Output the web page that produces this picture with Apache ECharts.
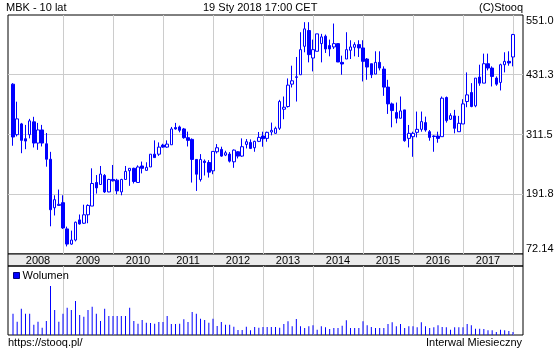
<!DOCTYPE html>
<html><head><meta charset="utf-8">
<script src="https://cdn.jsdelivr.net/npm/echarts@6/dist/echarts.min.js"></script>
<style>html,body{margin:0;padding:0;background:#fff}#c{width:560px;height:350px}</style>
</head><body><div id="c"></div>
<script>
// ---- data (monthly, Jan 2008 .. Jan 2018) ----
const years = ['2008','2009','2010','2011','2012','2013','2014','2015','2016','2017'];
const open = [412.4,311.2,332.8,303.1,311.2,336.9,294.4,320.7,293.0,262.0,164.8,169.5,
175.0,122.4,92.0,100.1,140.5,133.8,150.7,168.2,215.4,211.4,229.6,196.5,
221.5,220.1,196.5,221.5,239.0,243.8,215.4,248.5,239.7,246.5,272.1,272.1,
290.3,286.3,291.0,325.4,326.7,322.7,305.2,301.8,261.6,221.3,258.2,255.5,
238.8,277.0,281.7,270.3,272.3,256.9,277.0,268.3,291.7,295.7,285.0,297.8,
308.5,303.8,316.6,313.9,324.0,362.2,367.6,412.5,425.9,431.3,488.3,519.9,
464.8,478.3,493.7,508.5,489.7,487.0,493.7,456.1,462.8,480.3,486.3,491.7,
485.0,462.8,453.4,432.6,456.1,442.7,406.5,372.9,355.5,344.1,360.9,303.8,
307.2,315.9,321.9,335.4,317.2,308.5,308.5,307.2,385.7,342.1,348.8,317.2,
332.7,377.6,395.7,368.9,426.6,414.5,453.4,444.7,424.6,415.9,451.4,458.1,
466.9];
const close = [306.5,342.9,299.8,298.4,338.9,294.4,320.7,294.4,262.0,160.8,181.0,171.6,
124.4,92.0,100.1,135.8,132.4,150.7,169.5,213.4,204.6,232.3,196.5,221.5,
218.8,198.6,221.5,237.7,243.8,217.4,246.5,243.8,245.8,272.1,265.3,286.3,
286.3,292.3,322.7,322.7,320.0,305.2,299.8,261.6,232.0,261.6,255.5,236.1,
277.7,285.0,268.3,275.0,258.2,280.3,268.3,287.1,297.1,283.7,297.8,305.8,
303.2,315.9,319.9,324.0,377.6,366.2,410.5,419.2,427.3,481.6,523.2,471.6,
481.6,513.2,507.1,483.0,483.0,493.7,456.8,452.8,481.6,487.0,491.7,485.0,
458.1,446.7,431.3,456.1,444.7,406.5,372.9,359.5,344.1,358.8,299.1,313.9,
313.9,321.9,337.4,320.6,305.8,307.6,303.8,384.3,339.4,349.5,324.0,334.0,
372.9,391.0,367.6,424.6,414.5,453.4,444.7,427.9,412.5,451.4,458.1,454.8,
511.8];
const low = [289.0,307.8,274.1,282.2,303.8,285.6,280.8,287.6,247.1,127.7,149.3,168.9,
122.4,87.3,90.6,97.4,131.1,132.4,133.8,168.2,193.2,211.4,194.5,195.9,
217.4,191.8,189.8,221.5,208.7,213.4,215.4,233.6,239.7,246.5,265.3,268.7,
285.0,285.0,291.0,321.3,315.9,303.1,287.6,215.3,198.5,217.3,229.4,225.3,
232.0,273.6,266.9,268.3,255.5,244.8,263.6,266.9,283.7,282.4,277.0,296.4,
287.1,297.1,309.9,313.2,320.6,342.1,365.5,405.8,377.6,431.3,476.3,456.1,
438.0,478.3,456.1,474.9,468.2,483.0,456.8,431.3,462.8,462.8,468.2,466.9,
417.9,421.2,424.6,432.6,440.0,389.0,352.8,326.0,334.0,344.1,297.1,285.7,
266.9,305.8,317.2,317.2,299.1,277.0,295.1,307.2,335.4,340.7,313.9,317.2,
332.7,366.2,366.2,366.2,409.2,414.5,440.0,407.8,409.2,399.8,436.0,449.4,
448.1];
const high = [414.4,377.3,334.8,330.8,342.9,347.0,334.8,330.8,314.6,276.8,189.8,201.3,
189.8,127.0,119.0,137.1,151.3,170.9,171.6,243.8,230.3,248.5,232.3,222.8,
250.5,222.8,222.8,248.5,243.8,245.1,249.8,257.3,255.9,272.1,299.8,295.7,
293.0,299.8,326.7,334.8,329.4,324.7,317.3,303.8,261.6,272.3,261.6,260.2,
277.7,292.4,287.1,279.0,276.3,281.7,278.3,303.8,302.5,301.8,299.1,316.6,
317.2,317.2,335.4,327.3,381.0,387.7,423.9,449.4,466.9,516.5,536.6,536.6,
501.7,513.2,513.2,511.8,501.7,533.9,493.7,469.5,516.5,500.4,496.4,500.4,
500.4,464.8,453.4,478.3,478.3,448.1,421.2,375.6,375.6,387.7,360.9,330.7,
317.2,357.5,357.5,347.4,320.6,309.9,317.2,387.7,387.7,354.1,360.9,348.8,
382.3,436.0,414.5,424.6,451.4,473.6,473.6,448.1,427.9,453.4,476.3,478.3,
513.2];
const volume = [64,40,79,64,64,31,40,22,42,147,75,40,
64,82,75,102,60,55,75,85,64,42,79,57,
57,57,57,57,82,42,34,45,37,36,34,39,
39,57,33,33,34,47,39,69,64,49,45,37,
49,27,39,31,31,25,15,15,25,14,24,22,
24,24,24,24,22,33,41,26,48,26,21,26,
29,16,26,23,18,21,21,28,44,21,21,21,
41,29,24,21,21,21,33,38,26,33,21,26,
26,23,38,26,21,23,29,24,23,16,23,23,
23,33,29,19,19,18,14,14,9,16,14,12,
9];
const priceTicks = ['72.14','191.8','311.5','431.3','551.0'];
const priceMin = 72.14, priceMax = 551.0;

// ---- build ----
const FONT = '"Liberation Sans", Arial, sans-serif';
const priceStep = (priceMax - priceMin) / (priceTicks.length - 1);
const candles = open.map((o, i) => [i, o, close[i], low[i], high[i]]);
const vols = volume.map((v, i) => [i, v]);
const yearBounds = years.map((y, k) => 12 * (k + 1));
const yearMids = years.map((y, k) => 12 * k + 6);
const xMin = -1.2, xMax = 122.4;
const gridL = 8, gridR = 37;

const chart = echarts.init(document.getElementById('c'), null, {renderer: 'canvas'});
const gridLine = {show: true, lineStyle: {color: '#cccccc', width: 1}};
chart.setOption({
  animation: false,
  backgroundColor: '#ffffff',
  textStyle: {fontFamily: FONT},
  grid: [
    {left: gridL, right: gridR, top: 15, height: 239, show: true, borderColor: '#000', borderWidth: 1, backgroundColor: 'transparent'},
    {left: gridL, right: gridR, top: 254, height: 12, show: true, borderColor: '#000', borderWidth: 1, backgroundColor: '#ebebeb'},
    {left: gridL, right: gridR, top: 266, height: 69, show: true, borderColor: '#000', borderWidth: 1, backgroundColor: 'transparent'}
  ],
  xAxis: [
    {gridIndex: 0, type: 'value', min: xMin, max: xMax, axisLine: {show: false},
     axisTick: {show: false, customValues: yearBounds}, axisLabel: {show: false}, splitLine: gridLine},
    {gridIndex: 1, type: 'value', min: xMin, max: xMax, position: 'top', axisLine: {show: false},
     axisTick: {show: false, customValues: yearMids},
     axisLabel: {customValues: yearMids, inside: true, margin: 1, fontSize: 11, color: '#000', fontFamily: FONT,
       formatter: v => years[Math.round((v - 6) / 12)]},
     splitLine: {show: false}},
    {gridIndex: 2, type: 'value', min: xMin, max: xMax, axisLine: {show: false},
     axisTick: {show: false, customValues: yearBounds}, axisLabel: {show: false}, splitLine: gridLine}
  ],
  yAxis: [
    {gridIndex: 0, type: 'value', position: 'right', min: priceMin, max: priceMax, interval: priceStep,
     axisLine: {show: false}, axisTick: {show: false},
     axisLabel: {margin: 3, fontSize: 11, color: '#000', fontFamily: FONT,
       verticalAlignMinLabel: 'bottom', verticalAlignMaxLabel: 'top',
       formatter: v => priceTicks[Math.round((v - priceMin) / priceStep)]},
     splitLine: {show: true, showMinLine: false, showMaxLine: false, lineStyle: {color: '#cccccc', width: 1}}},
    {gridIndex: 1, type: 'value', show: false},
    {gridIndex: 2, type: 'value', min: 0, max: 207, show: false}
  ],
  legend: {data: ['Wolumen'], left: 13, top: 270, padding: 0, itemWidth: 6, itemHeight: 6, icon: 'rect',
    selectedMode: false, itemStyle: {borderColor: '#000080', borderWidth: 1},
    textStyle: {fontSize: 11, color: '#000', fontFamily: FONT, padding: [0, 0, 0, -2]}},
  series: [
    {type: 'candlestick', name: 'MBK', xAxisIndex: 0, yAxisIndex: 0, data: candles, barWidth: 3,
     encode: {x: 0, y: [1, 2, 3, 4]},
     itemStyle: {color: '#ffffff', color0: '#0000ff', borderColor: '#0000ff', borderColor0: '#0000ff',
       borderColorDoji: '#0000ff', borderWidth: 1}},
    {type: 'bar', name: 'Wolumen', xAxisIndex: 2, yAxisIndex: 2, data: vols, barWidth: 1,
     itemStyle: {color: '#0000ff'}}
  ],
  graphic: [
    {type: 'text', x: 6, y: 8, style: {text: 'MBK - 10 lat', font: '11px ' + FONT, fill: '#000', align: 'left', verticalAlign: 'middle'}},
    {type: 'text', x: 203, y: 8, style: {text: '19 Sty 2018 17:00 CET', font: '11px ' + FONT, fill: '#000', align: 'left', verticalAlign: 'middle'}},
    {type: 'text', x: 523, y: 8, style: {text: '(C)Stooq', font: '11px ' + FONT, fill: '#000', align: 'right', verticalAlign: 'middle'}},
    {type: 'text', x: 8, y: 343, style: {text: 'https://stooq.pl/', font: '11px ' + FONT, fill: '#000', align: 'left', verticalAlign: 'middle'}},
    {type: 'text', x: 522, y: 343, style: {text: 'Interwal Miesieczny', font: '11px ' + FONT, fill: '#000', align: 'right', verticalAlign: 'middle'}}
  ]
});
</script>
</body></html>
